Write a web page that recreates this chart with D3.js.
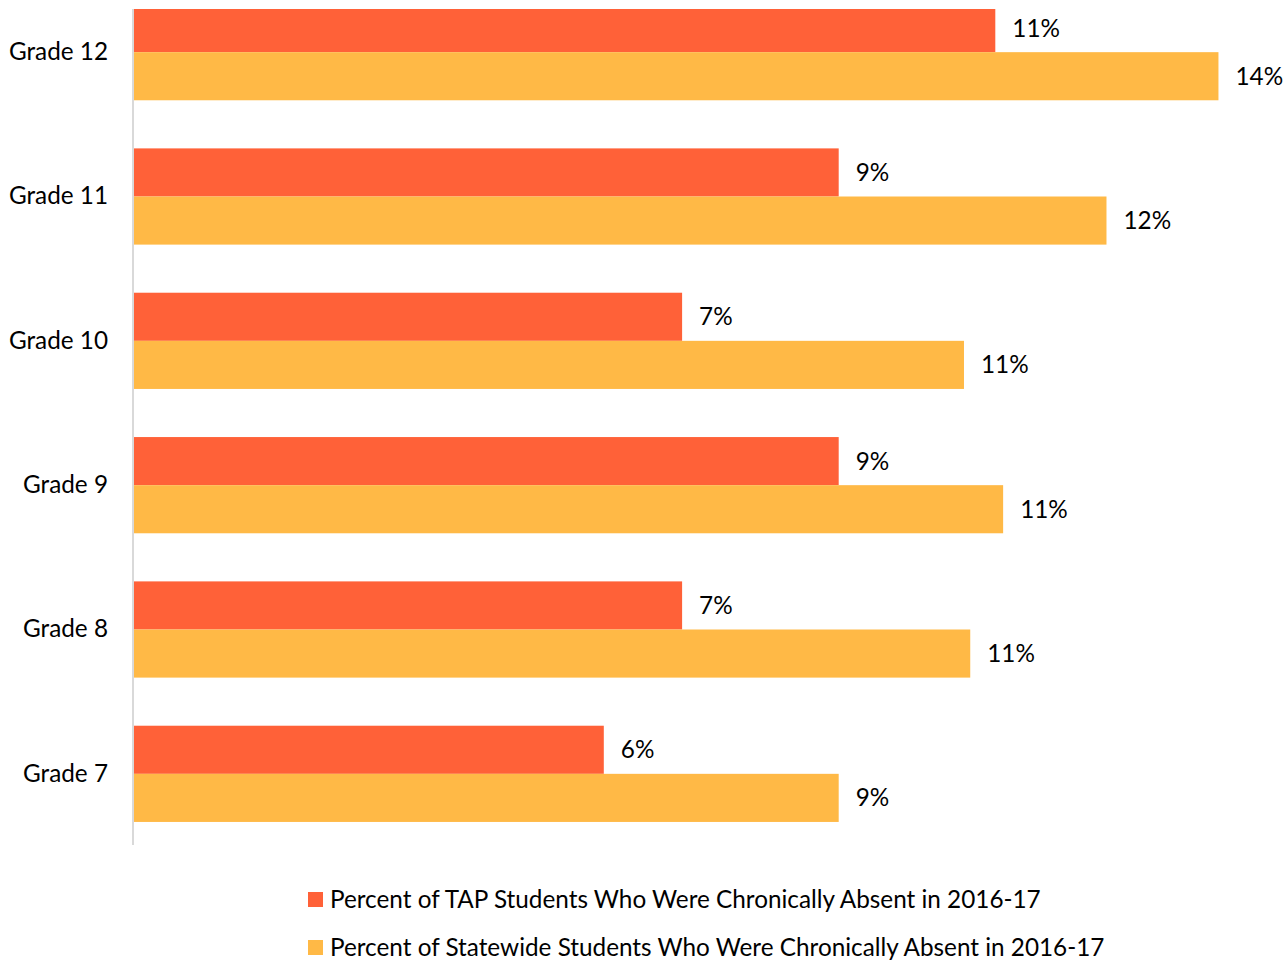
<!DOCTYPE html>
<html><head><meta charset="utf-8">
<script src="https://cdn.jsdelivr.net/npm/d3@7"></script>
<style>
html,body{margin:0;padding:0;background:#fff;}
svg{display:block;font-family:Lato, "Open Sans", sans-serif;}
</style></head>
<body>
<svg id="chart" width="1288" height="963"></svg>
<script>
const grades = ["Grade 12","Grade 11","Grade 10","Grade 9","Grade 8","Grade 7"];
const seriesNames = ["Percent of TAP Students Who Were Chronically Absent in 2016-17",
                     "Percent of Statewide Students Who Were Chronically Absent in 2016-17"];
const tapValues = [11.0, 9.0, 7.0, 9.0, 7.0, 6.0];
const statewideValues = [13.85, 12.42, 10.6, 11.1, 10.68, 9.0];
const colors = ["#FF6138", "#FFB946"];

const svg = d3.select("#chart");
const left = 134, plotTop = 9, plotBottom = 846;
const fs = 24.3;

const x = d3.scaleLinear().domain([0, 1]).range([left, left + 7830]);
const y = d3.scaleBand().domain(grades).range([plotBottom - 866, plotBottom])
  .paddingInner(1/3).paddingOuter(1/6);
const ySub = d3.scaleBand().domain([0,1]).range([0, y.bandwidth()]);

svg.append("defs").append("clipPath").attr("id","clip")
  .append("rect").attr("x",0).attr("y",plotTop).attr("width",1288).attr("height",plotBottom-plotTop+40);

const data = grades.map((g,i)=>({grade:g, vals:[tapValues[i], statewideValues[i]]}));

const plot = svg.append("g").attr("clip-path","url(#clip)");
const groups = plot.selectAll("g.grp").data(data).join("g")
  .attr("transform", d=>`translate(0,${y(d.grade)})`);
groups.selectAll("rect").data(d=>d.vals).join("rect")
  .attr("x", x(0))
  .attr("y", (d,i)=>ySub(i))
  .attr("width", d=>x(d/100)-x(0))
  .attr("height", ySub.bandwidth())
  .attr("fill", (d,i)=>colors[i]);
groups.selectAll("text").data(d=>d.vals).join("text")
  .attr("x", d=>x(d/100)+17)
  .attr("y", (d,i)=>ySub(i)+ySub.bandwidth()/2)
  .attr("dy","0.35em")
  .attr("font-size", fs)
  .attr("fill","#000")
  .text(d=>Math.round(d)+"%");

// axis line
svg.append("line").attr("x1",133).attr("x2",133).attr("y1",plotTop).attr("y2",plotBottom-1)
  .attr("stroke","#d9d9d9").attr("stroke-width",2);

// category labels
const yAxis = d3.axisLeft(y).tickSize(0).tickPadding(25);
const ag = svg.append("g").attr("transform","translate(133,0)").call(yAxis);
ag.select(".domain").remove();
ag.selectAll("text").attr("font-size",fs).attr("fill","#000").attr("font-family","Lato, sans-serif");

// legend
const leg = svg.append("g");
const legY = d3.scalePoint().domain(seriesNames).range([899, 947]);
const li = leg.selectAll("g").data(seriesNames).join("g")
  .attr("transform", d=>`translate(308,${legY(d)})`);
li.append("rect").attr("x",0).attr("y",-7).attr("width",15).attr("height",15)
  .attr("fill",(d,i)=>colors[i]);
li.append("text").attr("x",22).attr("y",0).attr("dy","0.35em")
  .attr("font-size",fs).attr("fill","#000").text(d=>d);
</script>
</body></html>
